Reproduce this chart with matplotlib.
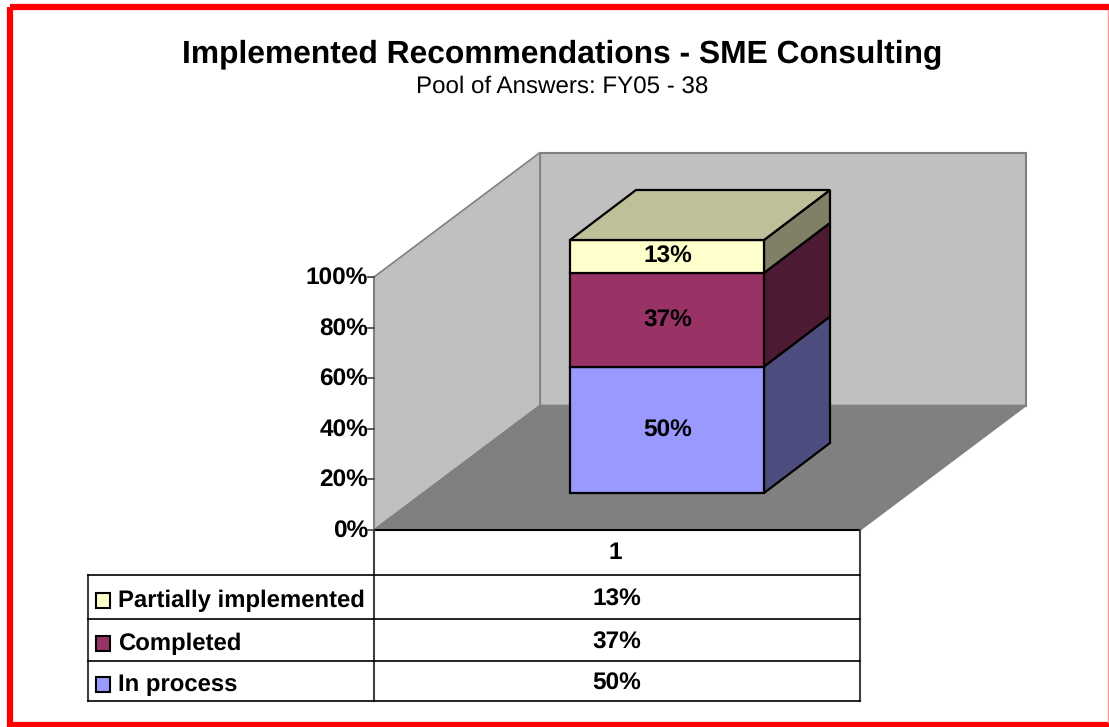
import matplotlib
matplotlib.use("Agg")
import matplotlib.pyplot as plt
from matplotlib.patches import Polygon, Rectangle

plt.rcParams["font.family"] = ["Liberation Sans", "DejaVu Sans"]
plt.rcParams["text.hinting"] = "no_hinting"

# data, bottom of the stack first
series_names = ["In process", "Completed", "Partially implemented"]
series_values = [50, 37, 13]
category = "1"
y_ticks = [0, 20, 40, 60, 80, 100]

front_colors = ["#9999ff", "#993366", "#ffffcc"]
side_colors = ["#4d4d80", "#4d1a33", "#808066"]
top_color = "#bfbf99"

W, H = 1109, 727

# chart geometry in image pixels
AXIS_X = 374
AXIS_Y0 = 530
PX_PER_PCT = 2.53
FLOOR_W = 486
DEPTH = (166, -124.5)
BAR_X0, BAR_X1 = 570, 764
BAR_Y0 = 493
BAR_DEPTH = (66, -50)
LABEL_SIZE = 17.6


def val_y(v, base=AXIS_Y0):
    return base - v * PX_PER_PCT


def poly(ax, pts, fc, ec="black", lw=1.6, z=2):
    ax.add_patch(Polygon(pts, closed=True, facecolor=fc, edgecolor=ec, linewidth=lw, joinstyle="miter", zorder=z))


fig = plt.figure(figsize=(W / 100, H / 100), dpi=100)
ax = fig.add_axes([0, 0, 1, 1])
ax.set_xlim(0, W)
ax.set_ylim(H, 0)
ax.axis("off")

# red border, the right side is only a faint pink line in the original
ax.add_patch(Rectangle((10, 7), 1115, 717.5, fill=False, edgecolor="#ff0000", linewidth=4.5, zorder=1))
ax.plot([1108, 1108], [10, 722], color="#ff9999", lw=1, zorder=1)

ax.text(562, 54, "Implemented Recommendations - SME Consulting", ha="center", va="center",
        fontsize=22.9, fontweight="bold", color="black")
ax.text(562, 87, "Pool of Answers: FY05 - 38", ha="center", va="center", fontsize=17.4, color="black")

# walls and floor
top_y = val_y(100)
dx, dy = DEPTH
wall_grey = "#c0c0c0"
edge_grey = "#808080"
poly(ax, [(AXIS_X + dx, AXIS_Y0 + dy), (AXIS_X + dx + FLOOR_W, AXIS_Y0 + dy),
          (AXIS_X + dx + FLOOR_W, top_y + dy), (AXIS_X + dx, top_y + dy)], wall_grey, edge_grey, 1.5, 2)
poly(ax, [(AXIS_X, AXIS_Y0), (AXIS_X + dx, AXIS_Y0 + dy), (AXIS_X + dx, top_y + dy), (AXIS_X, top_y)],
     wall_grey, edge_grey, 1.2, 2)
poly(ax, [(AXIS_X, AXIS_Y0), (AXIS_X + FLOOR_W, AXIS_Y0), (AXIS_X + FLOOR_W + dx, AXIS_Y0 + dy),
          (AXIS_X + dx, AXIS_Y0 + dy)], "#808080", edge_grey, 1.2, 3)
ax.plot([AXIS_X, AXIS_X + FLOOR_W], [AXIS_Y0, AXIS_Y0], color="black", lw=1.5, zorder=4)

# y axis
ax.plot([AXIS_X, AXIS_X], [AXIS_Y0, top_y], color=edge_grey, lw=1.5, zorder=4)
for t in y_ticks:
    y = val_y(t)
    ax.plot([AXIS_X - 6, AXIS_X], [y, y], color="#404040", lw=1.2, zorder=4)
    ax.text(AXIS_X - 6, y + 1.5, f"{t}%", ha="right", va="center", fontsize=LABEL_SIZE, fontweight="bold", color="black")

# stacked 3d bar
bx, by = BAR_DEPTH
bottom = 0
for name, v, fc, sc in zip(series_names, series_values, front_colors, side_colors):
    y0 = val_y(bottom, BAR_Y0)
    y1 = val_y(bottom + v, BAR_Y0)
    poly(ax, [(BAR_X1, y0), (BAR_X1 + bx, y0 + by), (BAR_X1 + bx, y1 + by), (BAR_X1, y1)], sc, z=5)
    poly(ax, [(BAR_X0, y0), (BAR_X1, y0), (BAR_X1, y1), (BAR_X0, y1)], fc, z=6)
    ax.text((BAR_X0 + BAR_X1) / 2 + 1, (y0 + y1) / 2 + 0.5, f"{v}%", ha="center", va="center",
            fontsize=LABEL_SIZE, fontweight="bold", color="black", zorder=7)
    bottom += v
y_top = val_y(bottom, BAR_Y0)
poly(ax, [(BAR_X0, y_top), (BAR_X1, y_top), (BAR_X1 + bx, y_top + by), (BAR_X0 + bx, y_top + by)], top_color, z=6)

# data table under the chart
TABLE_L, TABLE_R = 88, 860
row_lines = [575, 619, 661, 701]
ax.plot([AXIS_X, AXIS_X], [AXIS_Y0, row_lines[-1]], color="#404040", lw=1.5, zorder=4)
ax.plot([TABLE_R, TABLE_R], [AXIS_Y0, row_lines[-1]], color="#404040", lw=1.5, zorder=4)
ax.plot([TABLE_L, TABLE_L], [row_lines[0], row_lines[-1]], color="#404040", lw=1.5, zorder=4)
for y in row_lines:
    ax.plot([TABLE_L, TABLE_R], [y, y], color="black", lw=1.2, zorder=4)
ax.text(615, 553, category, ha="center", va="center", fontsize=LABEL_SIZE, fontweight="bold", color="black")

rows = list(zip(series_names, series_values, front_colors))[::-1]
for i, (name, v, fc) in enumerate(rows):
    yc = (row_lines[i] + row_lines[i + 1]) / 2 + 1
    ax.add_patch(Rectangle((95.5, yc - 5), 14.5, 15, facecolor=fc, edgecolor="black", linewidth=1.5, zorder=5))
    ax.text(118, yc + 9, name, ha="left", va="baseline", fontsize=17.2, fontweight="bold", color="black")
    ax.text(617, yc + 8, f"{v}%", ha="center", va="baseline", fontsize=LABEL_SIZE, fontweight="bold", color="black")

fig.savefig("out.png", dpi=100, facecolor="white")
